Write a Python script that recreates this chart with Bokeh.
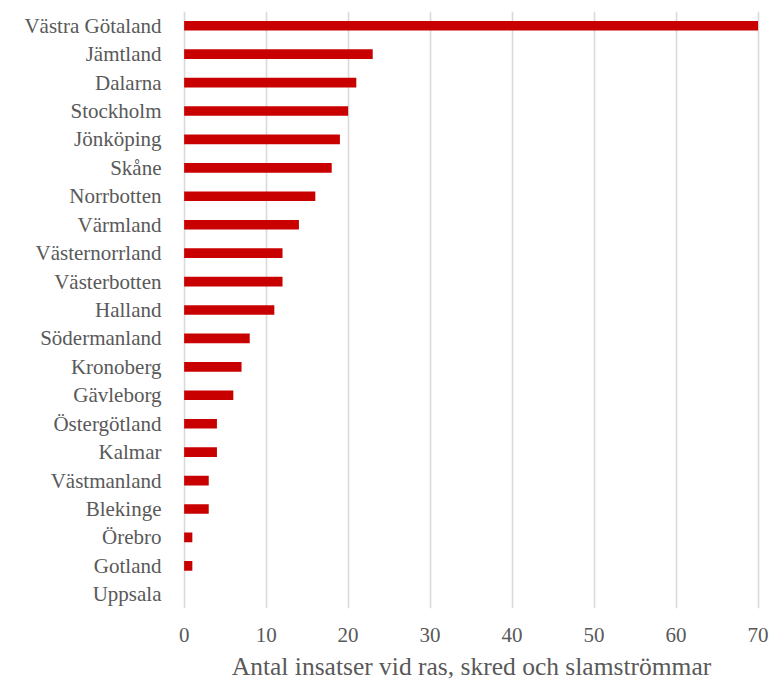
from bokeh.plotting import figure
from bokeh.models import Range1d, FixedTicker
from bokeh.embed import file_html
from bokeh.resources import INLINE

regions = ["Västra Götaland", "Jämtland", "Dalarna", "Stockholm", "Jönköping",
           "Skåne", "Norrbotten", "Värmland", "Västernorrland", "Västerbotten",
           "Halland", "Södermanland", "Kronoberg", "Gävleborg", "Östergötland",
           "Kalmar", "Västmanland", "Blekinge", "Örebro", "Gotland", "Uppsala"]
insatser = [70, 23, 21, 20, 19, 18, 16, 14, 12, 12, 11, 8, 7, 6, 4, 4, 3, 3, 1, 1, 0]
x_ticks = [0, 10, 20, 30, 40, 50, 60, 70]
x_title = "Antal insatser vid ras, skred och slamströmmar"

FONT = "Liberation Serif"
GREY = "#595959"

factors = list(reversed(regions))
p = figure(width=771, height=684, y_range=factors,
           x_range=Range1d(-0.2, 70.3),
           output_backend="svg", toolbar_location=None,
           min_border_left=182, min_border_right=11, min_border_top=11,
           min_border_bottom=76)
p.y_range.range_padding = 0

p.hbar(y=regions, right=insatser, left=0, height=0.34,
       fill_color="#c80000", line_color=None)

p.outline_line_color = None
p.ygrid.grid_line_color = None
p.xgrid.grid_line_color = "#d9d9d9"
p.xgrid.grid_line_width = 1.6

p.xaxis.ticker = FixedTicker(ticks=x_ticks)
p.xaxis.axis_line_color = None
p.xaxis.major_tick_line_color = None
p.xaxis.minor_tick_line_color = None
p.xaxis.major_tick_out = 0
p.xaxis.major_tick_in = 0
p.xaxis.minor_tick_out = 0
p.xaxis.major_label_text_font = FONT
p.xaxis.major_label_text_font_size = "21px"
p.xaxis.major_label_text_color = GREY
p.xaxis.major_label_standoff = 19
p.xaxis.axis_label = x_title
p.xaxis.axis_label_text_font = FONT
p.xaxis.axis_label_text_font_size = "25.5px"
p.xaxis.axis_label_text_font_style = "normal"
p.xaxis.axis_label_text_color = GREY
p.xaxis.axis_label_standoff = 7

p.yaxis.axis_line_color = None
p.yaxis.major_tick_line_color = None
p.yaxis.minor_tick_line_color = None
p.yaxis.major_tick_out = 0
p.yaxis.major_tick_in = 0
p.yaxis.minor_tick_out = 0
p.yaxis.major_label_text_font = FONT
p.yaxis.major_label_text_font_size = "21px"
p.yaxis.major_label_text_color = GREY
p.yaxis.major_label_standoff = 21

open("out.html", "w").write(file_html(p, INLINE))
